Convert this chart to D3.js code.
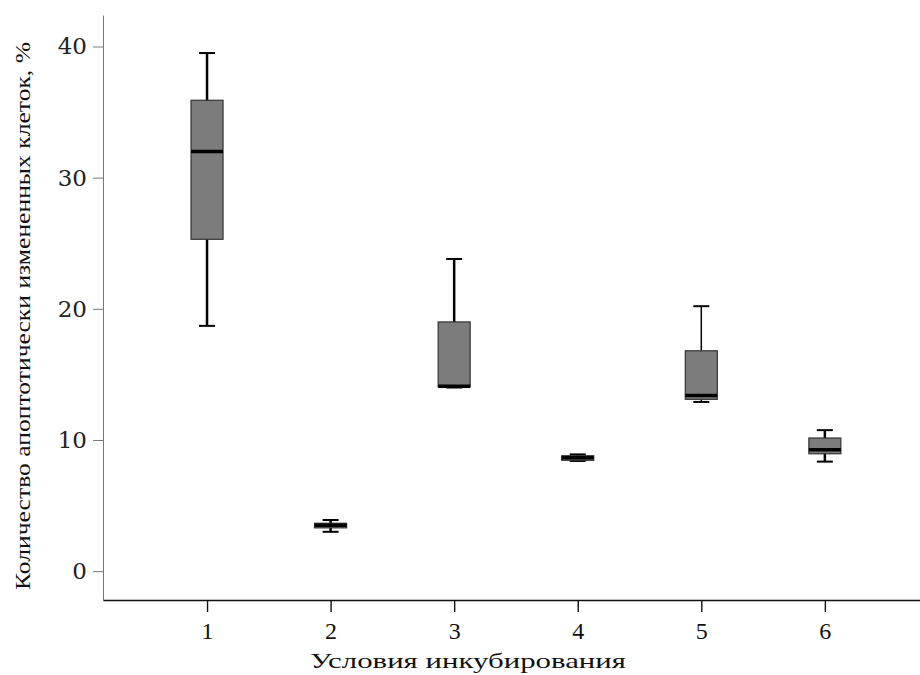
<!DOCTYPE html>
<meta charset="utf-8" />
<style>
  body {
    margin: 0;
    background: #fff;
  }
  .y-axis path,
  .y-axis line {
    stroke: #777;
  }
  .y-axis text {
    font-family: "DejaVu Serif", serif;
    font-size: 23px;
    fill: #222;
  }
  .x-axis path,
  .x-axis line {
    stroke: #111;
    stroke-width: 1.4px;
  }
  .x-axis text {
    font-family: "Liberation Serif", serif;
    font-size: 24px;
    fill: #111;
  }
  .title {
    font-family: "Liberation Serif", serif;
    fill: #111;
  }
</style>
<svg width="920" height="675"></svg>

<script src="https://d3js.org/d3.v7.js"></script>
<script>
  /* global d3 */

  // incubation conditions
  var groups = [1, 2, 3, 4, 5, 6];
  // box plot statistics, % of apoptotic cells
  var whiskerLow = [18.7, 3.0, 14.0, 8.4, 12.9, 8.35];
  var q1 = [25.3, 3.3, 14.05, 8.45, 13.1, 8.95];
  var median = [32.0, 3.5, 14.1, 8.65, 13.4, 9.25];
  var q3 = [35.9, 3.65, 19.0, 8.8, 16.8, 10.15];
  var whiskerHigh = [39.5, 3.9, 23.8, 8.9, 20.2, 10.75];
  var yTicks = [0, 10, 20, 30, 40];

  var svg = d3.select("svg");

  var x = d3.scaleLinear().domain([0.158, 6.77]).range([103, 920]);
  var y = d3.scaleLinear().domain([-2.2, 42.4]).range([600, 15]);

  var boxW = 32,
    capW = 16;

  svg
    .append("g")
    .attr("class", "y-axis")
    .attr("transform", "translate(103,0)")
    .call(d3.axisLeft(y).tickValues(yTicks).tickSize(10).tickPadding(6).tickSizeOuter(0));

  svg
    .append("g")
    .attr("class", "x-axis")
    .attr("transform", "translate(0,600)")
    .call(d3.axisBottom(x).tickValues(groups).tickFormat(d3.format("d")).tickSize(12).tickPadding(10).tickSizeOuter(0));

  var data = groups.map(function (g, i) {
    return {
      g: g,
      lo: whiskerLow[i],
      q1: q1[i],
      med: median[i],
      q3: q3[i],
      hi: whiskerHigh[i],
    };
  });

  var box = svg
    .append("g")
    .selectAll("g")
    .data(data)
    .join("g")
    .attr("transform", function (d) {
      return "translate(" + x(d.g) + ",0)";
    });

  // whiskers
  box
    .append("line")
    .attr("y1", function (d) {
      return y(d.lo);
    })
    .attr("y2", function (d) {
      return y(d.hi);
    })
    .attr("stroke", "#000")
    .attr("stroke-width", function (d, i) {
      return i === 4 ? 1.5 : 2.5;
    });

  box
    .selectAll(".cap")
    .data(function (d) {
      return [d.lo, d.hi];
    })
    .join("line")
    .attr("class", "cap")
    .attr("x1", -capW / 2)
    .attr("x2", capW / 2)
    .attr("y1", function (v) {
      return y(v);
    })
    .attr("y2", function (v) {
      return y(v);
    })
    .attr("stroke", "#000")
    .attr("stroke-width", 2);

  box
    .append("rect")
    .attr("x", -boxW / 2)
    .attr("width", boxW)
    .attr("y", function (d) {
      return y(d.q3);
    })
    .attr("height", function (d) {
      return Math.max(1, y(d.q1) - y(d.q3));
    })
    .attr("fill", "#7c7c7c")
    .attr("stroke", "#333")
    .attr("stroke-width", 1.2);

  box
    .append("line")
    .attr("x1", -boxW / 2)
    .attr("x2", boxW / 2)
    .attr("y1", function (d) {
      return y(d.med);
    })
    .attr("y2", function (d) {
      return y(d.med);
    })
    .attr("stroke", "#000")
    .attr("stroke-width", 3.5);

  svg
    .append("text")
    .attr("class", "title")
    .attr("x", 468)
    .attr("y", 668)
    .attr("text-anchor", "middle")
    .attr("textLength", 316)
    .attr("lengthAdjust", "spacingAndGlyphs")
    .style("font-size", "22px")
    .text("Условия инкубирования");

  svg
    .append("text")
    .attr("class", "title")
    .attr("transform", "translate(30,316) rotate(-90)")
    .attr("text-anchor", "middle")
    .attr("textLength", 548)
    .attr("lengthAdjust", "spacingAndGlyphs")
    .style("font-size", "21px")
    .text("Количество апоптотически измененных клеток, %");
</script>
